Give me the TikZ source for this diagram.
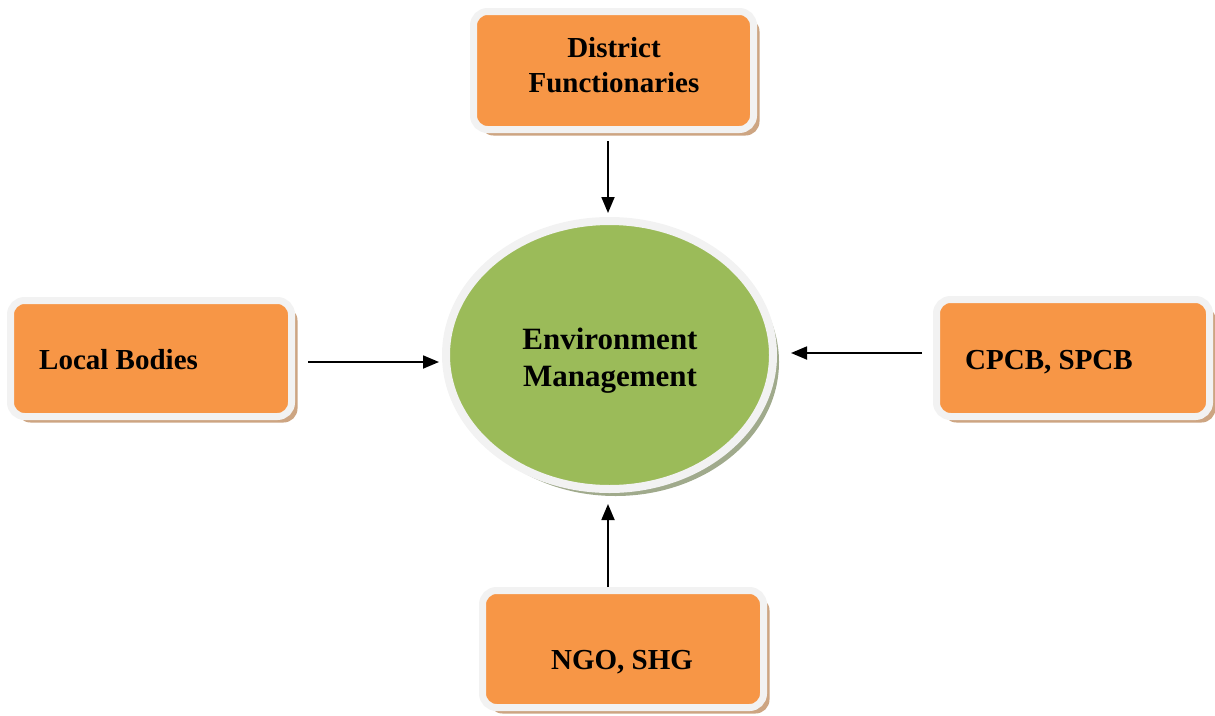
\documentclass[tikz,border=0pt]{standalone}
\usepackage{fontspec}
\setmainfont{Liberation Serif}
\usetikzlibrary{arrows.meta,shapes.geometric,shadows}
\definecolor{boxorange}{HTML}{F79646}
\definecolor{emgreen}{HTML}{9BBB59}
\definecolor{rimwhite}{HTML}{F2F2F2}
\definecolor{boxshadow}{RGB}{205,165,130}
\definecolor{emshadow}{RGB}{160,170,140}
\tikzset{
  box/.style={rectangle, rounded corners=14pt, fill=boxorange, draw=rimwhite,
    line width=7pt, inner sep=0pt,
    drop shadow={shadow xshift=6pt, shadow yshift=-6pt, fill=boxshadow, opacity=1}},
  hub/.style={ellipse, fill=emgreen, draw=rimwhite, line width=8pt, inner sep=0pt,
    minimum width=327pt, minimum height=268pt,
    drop shadow={shadow xshift=6pt, shadow yshift=-7pt, fill=emshadow, opacity=1}},
  lbl/.style={font=\fontsize{29}{35}\selectfont\bfseries, align=center, inner sep=0pt},
  hublbl/.style={font=\fontsize{31}{37}\selectfont\bfseries, align=center, inner sep=0pt},
  arr/.style={line width=1.8pt, -{Triangle[length=16pt,width=13pt]}}
}
\begin{document}
\begin{tikzpicture}[x=1pt,y=-1pt]
\useasboundingbox (0,0) rectangle (1215,715);
\node[box, minimum width=280pt, minimum height=118pt] (df) at (613.5,70.5) {};
\node[box, minimum width=281pt, minimum height=116pt] (lb) at (151,358.5) {};
\node[box, minimum width=273pt, minimum height=117pt] (cp) at (1073,358) {};
\node[box, minimum width=281pt, minimum height=117pt] (ng) at (623,649) {};
\node[hub] (em) at (609.5,355) {};
\node[lbl] (tdf) at (614,65) {District\\Functionaries};
\node[lbl, anchor=west] (tlb) at (39,360) {Local Bodies};
\node[lbl, anchor=west] (tcp) at (965,362) {CPCB, SPCB};
\node[lbl] (tng) at (622,662) {NGO, SHG};
\node[hublbl] (tem) at (610,361) {Environment\\Management};
\draw[arr, shorten <=8pt, shorten >=4pt] (df.south -| 608,0) -- (em.north -| 608,0);
\draw[arr, shorten <=13pt, shorten >=3pt] ([yshift=-3.5pt]lb.east) -- ([yshift=-3.5pt]lb.east -| em.west);
\draw[arr, shorten <=11pt, shorten >=14pt] ([yshift=5pt]cp.west) -- ([yshift=5pt]cp.west -| em.east);
\draw[arr, shorten <=0pt, shorten >=11pt] (ng.north -| 608,0) -- (em.south -| 608,0);
\end{tikzpicture}
\end{document}
